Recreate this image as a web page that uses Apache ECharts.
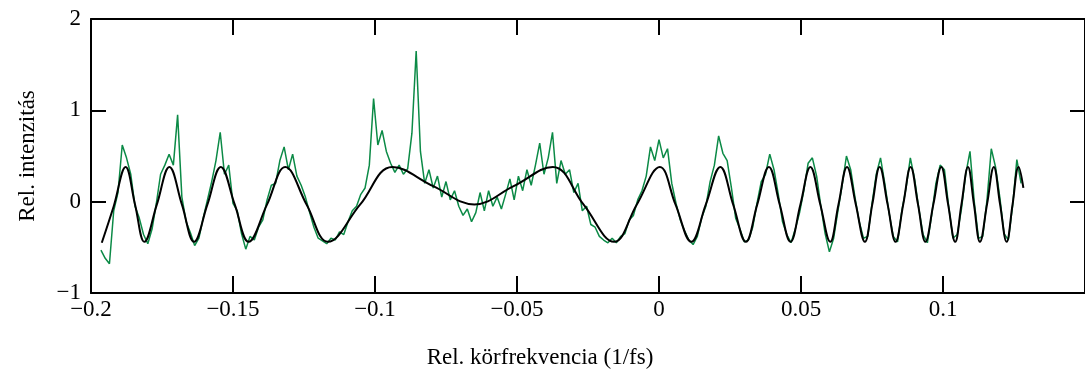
<!DOCTYPE html>
<html>
<head>
<meta charset="utf-8">
<script src="https://cdn.jsdelivr.net/npm/echarts@6/dist/echarts.min.js"></script>
<style>
  html, body { margin: 0; padding: 0; background: #fff; }
  #chart { width: 1085px; height: 374px; }
</style>
</head>
<body>
<div id="chart"></div>
<script>
// measured spectrum, sampled from -0.1965 with step 0.0015 (1/fs)
const measuredStart = -0.1965;
const measuredStep = 0.0015;
const measured = [
  -0.53, -0.62, -0.68, -0.10, 0.10, 0.62, 0.48, 0.30, -0.05, -0.18,
  -0.36, -0.46, -0.30, -0.02, 0.30, 0.40, 0.52, 0.40, 0.95, 0.05,
  -0.22, -0.34, -0.48, -0.40, -0.18, 0.02, 0.22, 0.45, 0.76, 0.30,
  0.40, -0.02, -0.10, -0.35, -0.52, -0.38, -0.42, -0.28, -0.20, 0.02,
  0.18, 0.20, 0.45, 0.60, 0.35, 0.52, 0.28, 0.18, 0.05, -0.12,
  -0.28, -0.40, -0.43, -0.46, -0.40, -0.42, -0.33, -0.36, -0.22, -0.10,
  -0.05, 0.08, 0.15, 0.40, 1.13, 0.62, 0.78, 0.55, 0.42, 0.32,
  0.40, 0.30, 0.36, 0.75, 1.65, 0.55, 0.20, 0.35, 0.15, 0.28,
  0.05, 0.22, 0.02, 0.12, -0.05, -0.15, -0.08, -0.22, -0.12, 0.10,
  -0.10, 0.12, -0.05, 0.05, -0.08, 0.08, 0.25, 0.02, 0.28, 0.12,
  0.35, 0.18, 0.40, 0.64, 0.30, 0.48, 0.76, 0.20, 0.45, 0.30,
  0.35, 0.10, 0.20, -0.10, -0.05, -0.25, -0.28, -0.38, -0.42, -0.45,
  -0.40, -0.45, -0.38, -0.35, -0.20, -0.15, 0.02, 0.12, 0.28, 0.60,
  0.45, 0.68, 0.48, 0.58, 0.20, -0.02, -0.20, -0.32, -0.42, -0.47,
  -0.38, -0.18, -0.05, 0.22, 0.40, 0.72, 0.53, 0.45, 0.15, -0.18,
  -0.30, -0.44, -0.42, -0.28, -0.02, 0.22, 0.30, 0.52, 0.35, 0.08,
  -0.22, -0.36, -0.45, -0.30, -0.12, 0.12, 0.42, 0.48, 0.28, -0.05,
  -0.35, -0.55, -0.40, -0.10, 0.18, 0.50, 0.35, 0.05, -0.22, -0.40,
  -0.38, -0.02, 0.30, 0.48, 0.20, -0.12, -0.38, -0.44, -0.10, 0.15,
  0.48, 0.25, -0.08, -0.36, -0.45, -0.15, 0.20, 0.40, 0.35, -0.05,
  -0.40, -0.36, -0.08, 0.30, 0.55, 0.00, -0.40, -0.38, 0.02, 0.58,
  0.38, 0.05, -0.35, -0.42, -0.05, 0.46, 0.20
];

// fitted curve: peaks, troughs and midpoints
const fitFreq = [
  -0.1962, -0.1920, -0.1878, -0.1845, -0.1812, -0.1768, -0.1724, -0.1680,
  -0.1637, -0.1590, -0.1543, -0.1494, -0.1445, -0.1380, -0.1316, -0.1241,
  -0.1166, -0.1052, -0.0939, -0.0795, -0.0650, -0.0512, -0.0374, -0.0266,
  -0.0158, -0.0078, 0.0003, 0.0058, 0.0114, 0.0165, 0.0216, 0.0261,
  0.0306, 0.0346, 0.0387, 0.0425, 0.0463, 0.0498, 0.0533, 0.0568,
  0.0603, 0.0632, 0.0662, 0.0693, 0.0725, 0.0751, 0.0777, 0.0805,
  0.0833, 0.0860, 0.0886, 0.0912, 0.0938, 0.0966, 0.0994, 0.1018,
  0.1043, 0.1065, 0.1088, 0.1109, 0.1130, 0.1155, 0.1179, 0.1201,
  0.1224, 0.1245, 0.1266, 0.1283
];
const fitValue = [
  -0.45, -0.05, 0.38, -0.03, -0.44, -0.03, 0.38, -0.03,
  -0.44, -0.03, 0.38, -0.03, -0.44, -0.03, 0.38, -0.03,
  -0.44, -0.03, 0.38, 0.17, -0.03, 0.17, 0.38, -0.03,
  -0.44, -0.03, 0.38, -0.03, -0.44, -0.03, 0.38, -0.03,
  -0.44, -0.03, 0.38, -0.03, -0.44, -0.03, 0.38, -0.03,
  -0.44, -0.03, 0.38, -0.03, -0.44, -0.03, 0.38, -0.03,
  -0.44, -0.03, 0.38, -0.03, -0.44, -0.03, 0.38, -0.03,
  -0.44, -0.03, 0.38, -0.03, -0.44, -0.03, 0.38, -0.03,
  -0.44, -0.03, 0.38, 0.15
];

const xTicks = [-0.2, -0.15, -0.1, -0.05, 0, 0.05, 0.1];
const yTicks = [-1, 0, 1, 2];

const serif = '"Liberation Serif", "DejaVu Serif", serif';
const fmt = v => String(+v.toFixed(3)).replace('-', '\u2212');

const chart = echarts.init(document.getElementById('chart'));

const frameAxis = {
  axisLine: { show: true, onZero: false, lineStyle: { color: '#000', width: 2 } },
  splitLine: { show: false }
};

chart.setOption({
  animation: false,
  backgroundColor: '#fff',
  title: {
    text: 'Rel. körfrekvencia (1/fs)',
    left: 535,
    top: 341,
    textAlign: 'center',
    textStyle: { fontFamily: serif, fontSize: 23, fontWeight: 'normal', color: '#000' }
  },
  grid: { left: 91, top: 19, width: 1003, height: 274 },
  xAxis: [
    {
      ...frameAxis,
      type: 'value',
      position: 'bottom',
      min: -0.2,
      max: 0.15,
      interval: 0.05,
      axisTick: { show: true, inside: true, length: 17, lineStyle: { color: '#000', width: 2 }, customValues: xTicks },
      axisLabel: {
        customValues: xTicks,
        color: '#000', fontFamily: serif, fontSize: 23, margin: 5,
        formatter: fmt
      }
    },
    {
      ...frameAxis,
      type: 'value',
      position: 'top',
      min: -0.2,
      max: 0.15,
      interval: 0.05,
      axisTick: { show: true, inside: true, length: 16, lineStyle: { color: '#000', width: 2 } },
      axisLabel: { show: false }
    }
  ],
  yAxis: [
    {
      ...frameAxis,
      type: 'value',
      position: 'left',
      min: -1,
      max: 2,
      interval: 1,
      name: 'Rel. intenzitás',
      nameLocation: 'middle',
      nameGap: 52,
      nameTextStyle: { fontFamily: serif, fontSize: 23, color: '#000' },
      axisTick: { show: true, inside: true, length: 15, lineStyle: { color: '#000', width: 2 } },
      axisLabel: {
        customValues: yTicks,
        color: '#000', fontFamily: serif, fontSize: 23, margin: 10,
        formatter: fmt
      }
    },
    {
      ...frameAxis,
      type: 'value',
      position: 'right',
      min: -1,
      max: 2,
      interval: 1,
      axisTick: { show: true, inside: true, length: 15, lineStyle: { color: '#000', width: 2 } },
      axisLabel: { show: false }
    }
  ],
  series: [
    {
      name: 'mért',
      type: 'line',
      data: measured.map((v, i) => [measuredStart + i * measuredStep, v]),
      showSymbol: false,
      lineStyle: { color: '#0b8a46', width: 1.5 },
      z: 2
    },
    {
      name: 'illesztett',
      type: 'line',
      data: fitFreq.map((f, i) => [f, fitValue[i]]),
      smooth: 0.4,
      showSymbol: false,
      lineStyle: { color: '#000', width: 2 },
      z: 3
    }
  ]
});
</script>
</body>
</html>
